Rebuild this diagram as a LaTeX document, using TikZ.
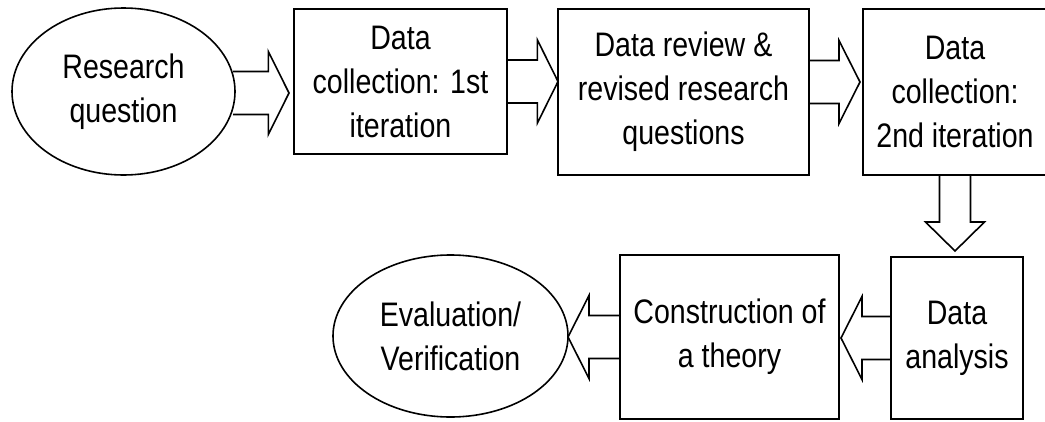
\documentclass[tikz,border=0pt]{standalone}
\usepackage{fontspec}
\setmainfont{Liberation Sans}[FakeStretch=0.84]
\usetikzlibrary{calc,shapes.geometric}

% Hollow block arrow from a start point to a tip on the same level
\newcommand\harrow[2]{%
  \draw[blockarrow] let \p1=(#1), \p2=(#2), \p3=($(#2)!21pt!(#1)$) in
    (\x1,\y1+21.5pt) -- (\x3,\y1+21.5pt) -- (\x3,\y1+41.5pt)
    -- (\x2,\y1) -- (\x3,\y1-41.5pt) -- (\x3,\y1-21.5pt)
    -- (\x1,\y1-21.5pt);}
% Hollow block arrow pointing downwards
\newcommand\varrow[2]{%
  \draw[blockarrow] let \p1=(#1), \p2=(#2) in
    (\x1-15.5pt,\y1) -- (\x1-15.5pt,\y2+29pt) -- (\x1-29.5pt,\y2+29pt)
    -- (\x1,\y2) -- (\x1+29.5pt,\y2+29pt) -- (\x1+15.5pt,\y2+29pt)
    -- (\x1+15.5pt,\y1);}

\begin{document}
\begin{tikzpicture}[x=1pt,y=-1pt,line width=1.6pt,
  label text/.style={align=center,font=\fontsize{34}{44}\selectfont},
  box/.style={draw,rectangle,inner sep=0pt,outer sep=0pt,label text},
  oval/.style={draw,ellipse,inner sep=0pt,outer sep=0pt,label text},
  blockarrow/.style={draw,line join=miter}]
\clip (0,0) rectangle (1045,421);
\fill[white] (0,0) rectangle (1045,421);

% stages of the process
\node[oval,minimum width=223pt,minimum height=167pt] (rq) at (123.5,91.5) {Research\\question};
\node[box,minimum width=213pt,minimum height=145pt] (b1) at (400.5,81.5) {Data\\collection: 1st\\iteration};
\node[box,minimum width=251pt,minimum height=166pt] (b2) at (683.5,92) {Data review \&\\revised research\\questions};
\node[box,minimum width=184pt,minimum height=166pt] (b3) at (955,92) {Data\\collection:\\2nd iteration};
\node[box,minimum width=132pt,minimum height=162pt] (b4) at (957,338) {Data\\analysis};
\node[box,minimum width=219pt,minimum height=164pt] (b5) at (729.5,337) {Construction of\\a theory};
\node[oval,minimum width=235pt,minimum height=162pt] (ev) at (450.5,336) {Evaluation/\\Verification};

% flow between stages
\harrow{[xshift=-2pt,yshift=-1.5pt]rq.east}{[xshift=-5pt,yshift=-1.5pt]b1.west}
\harrow{b1.east}{b2.west}
\harrow{[yshift=10pt]b2.east}{[xshift=-3pt,yshift=10pt]b3.west}
\varrow{b3.south}{[yshift=6pt]b4.north}
\harrow{b4.west}{[xshift=2pt]b5.east}
\harrow{b5.west}{ev.east}
\end{tikzpicture}
\end{document}
